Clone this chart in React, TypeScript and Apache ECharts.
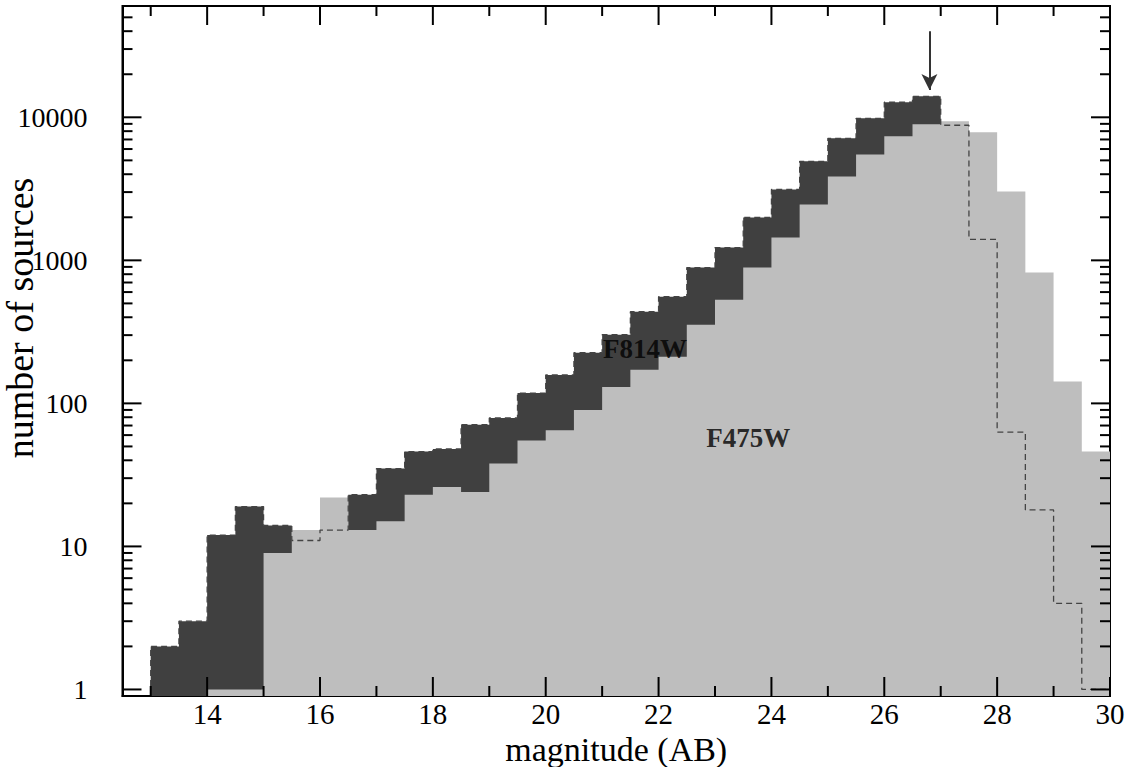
import React, { useEffect, useRef } from "react";
import * as echarts from "echarts";

// ---- data ----
const binStarts = [
  13.0, 13.5, 14.0, 14.5, 15.0, 15.5, 16.0, 16.5, 17.0, 17.5, 18.0, 18.5,
  19.0, 19.5, 20.0, 20.5, 21.0, 21.5, 22.0, 22.5, 23.0, 23.5, 24.0, 24.5,
  25.0, 25.5, 26.0, 26.5, 27.0, 27.5, 28.0, 28.5, 29.0, 29.5,
];
const BIN_WIDTH = 0.5;
const f814w = [
  2, 3, 12, 19, 14, 11, 13, 23, 35, 46, 48, 71,
  79, 118, 158, 226, 302, 437, 557, 890, 1228, 1995, 3133, 4920,
  7130, 9840, 12740, 14020, 8800, 1400, 63, 18, 4, 1,
];
const f475w = [
  0, 0, 1, 1, 9, 13, 22, 13, 15, 23, 26, 24,
  38, 55, 65, 90, 130, 172, 212, 355, 531, 890, 1445, 2457,
  3862, 5505, 7360, 8930, 9380, 7850, 3030, 821, 142, 46,
];
const xMajorTicks = [14, 16, 18, 20, 22, 24, 26, 28, 30];
const xMinorTicks = [13, 15, 17, 19, 21, 23, 25, 27, 29];
const yMajorTicks = [1, 10, 100, 1000, 10000];
const yMinorTicks = [
  2, 3, 4, 5, 6, 7, 8, 9,
  20, 30, 40, 50, 60, 70, 80, 90,
  200, 300, 400, 500, 600, 700, 800, 900,
  2000, 3000, 4000, 5000, 6000, 7000, 8000, 9000,
  20000, 30000, 40000, 50000,
];
const X_MIN = 12.5;
const X_MAX = 30;
const Y_MIN = 0.9;
const Y_MAX = 60000;
const arrowX = 26.8;
const arrowFrom = 40000;
const arrowTo = 15500;
const labelPoints = [
  [21.76, 241, "F814W"],
  [23.59, 57, "F475W"],
];

const FONT = "'Liberation Serif', 'Times New Roman', serif";
const DARK = "#404040";
const LIGHT = "#bebebe";

function stepOutline(starts: number[], vals: number[]) {
  const pts: number[][] = [];
  let first = true;
  let lastEnd = 0;
  for (let i = 0; i < starts.length; i++) {
    const v = vals[i];
    if (!(v > 0)) continue;
    const x0 = starts[i];
    const x1 = starts[i] + BIN_WIDTH;
    if (first) {
      pts.push([x0, Y_MIN]);
      first = false;
    }
    pts.push([x0, v]);
    pts.push([x1, v]);
    lastEnd = x1;
  }
  pts.push([lastEnd, Y_MIN]);
  return pts;
}

export default function App() {
  const ref = useRef<HTMLDivElement>(null);

  useEffect(() => {
    if (!ref.current) return;
    const chart = echarts.init(ref.current, null, { renderer: "svg" });

    const isPow10 = (v: number) => {
      const l = Math.log10(v);
      return Math.abs(l - Math.round(l)) < 1e-9;
    };

    const option: any = {
      animation: false,
      backgroundColor: "#ffffff",
      grid: {
        left: 122.5,
        right: 18,
        top: 6,
        bottom: 71,
        show: true,
        borderColor: "#000",
        borderWidth: 2,
        containLabel: false,
        outerBoundsMode: "none",
      },
      xAxis: {
        type: "value",
        min: X_MIN,
        max: X_MAX,
        interval: 0.5,
        axisLine: { show: true, lineStyle: { color: "#000", width: 2 } },
        axisTick: { show: false },
        splitLine: { show: false },
        axisLabel: {
          color: "#000",
          fontFamily: FONT,
          fontSize: 29,
          margin: 3,
          formatter: (v: number) =>
            Math.abs(v - Math.round(v)) < 1e-9 && Math.round(v) % 2 === 0
              ? String(Math.round(v))
              : "",
        },
        name: "magnitude (AB)",
        nameLocation: "middle",
        nameGap: 36,
        nameMoveOverlap: false,
        nameTextStyle: { color: "#000", fontFamily: FONT, fontSize: 34 },
      },
      yAxis: {
        type: "log",
        logBase: 10,
        min: Y_MIN,
        max: Y_MAX,
        axisLine: { show: true, lineStyle: { color: "#000", width: 2 } },
        axisTick: { show: false },
        splitLine: { show: false },
        axisLabel: {
          color: "#000",
          fontFamily: FONT,
          fontSize: 28,
          margin: 35,
          showMinLabel: false,
          showMaxLabel: false,
          formatter: (v: number) => (isPow10(v) ? String(Math.round(v)) : ""),
        },
        name: "number of sources",
        nameLocation: "middle",
        nameGap: 84,
        nameMoveOverlap: false,
        nameTextStyle: {
          color: "#000",
          fontFamily: FONT,
          fontSize: 38,
          padding: [0, 0, 0, 66],
        },
      },
      series: [
        {
          name: "F814W fill",
          type: "line",
          data: stepOutline(binStarts, f814w),
          showSymbol: false,
          silent: true,
          lineStyle: { width: 0, color: DARK },
          areaStyle: { color: DARK, opacity: 1, origin: "start" },
          z: 1,
        },
        {
          name: "F475W fill",
          type: "line",
          data: stepOutline(binStarts, f475w),
          showSymbol: false,
          silent: true,
          lineStyle: { width: 0, color: LIGHT },
          areaStyle: { color: LIGHT, opacity: 1, origin: "start" },
          z: 2,
        },
        {
          name: "F814W outline",
          type: "line",
          data: stepOutline(binStarts, f814w),
          showSymbol: false,
          silent: true,
          lineStyle: { width: 1.3, color: "#444", type: [6, 4] },
          z: 3,
          markLine: {
            silent: true,
            symbol: ["none", "arrow"],
            symbolSize: [12, 16],
            label: { show: false },
            lineStyle: { color: "#333", width: 2, type: "solid" },
            data: [
              [
                { coord: [arrowX, arrowFrom] },
                { coord: [arrowX, arrowTo] },
              ],
            ],
          },
        },
        {
          name: "labels",
          type: "scatter",
          data: labelPoints,
          symbolSize: 0,
          silent: true,
          z: 5,
          label: {
            show: true,
            position: "inside",
            formatter: (p: any) => p.value[2],
            color: "#000",
            fontFamily: FONT,
            fontWeight: "bold",
            fontSize: 27,
          },
        },
        {
          name: "ticks",
          type: "custom",
          silent: true,
          clip: false,
          z: 10,
          data: [[20, 100]],
          renderItem: (params: any, api: any) => {
            const cs = params.coordSys;
            const left = cs.x;
            const top = cs.y;
            const right = cs.x + cs.width;
            const bottom = cs.y + cs.height;
            const MAJ = 19;
            const MIN = 10;
            const children: any[] = [];
            const seg = (x1: number, y1: number, x2: number, y2: number) =>
              children.push({
                type: "line",
                shape: { x1, y1, x2, y2 },
                style: { stroke: "#000", lineWidth: 2 },
              });
            xMajorTicks.forEach((v) => {
              const x = api.coord([v, 1])[0];
              seg(x, bottom, x, bottom - MAJ);
              seg(x, top, x, top + MAJ);
            });
            xMinorTicks.forEach((v) => {
              const x = api.coord([v, 1])[0];
              seg(x, bottom, x, bottom - MIN);
              seg(x, top, x, top + MIN);
            });
            yMajorTicks.forEach((v) => {
              const y = api.coord([20, v])[1];
              seg(left, y, left + MAJ, y);
              seg(right, y, right - MAJ, y);
            });
            yMinorTicks.forEach((v) => {
              const y = api.coord([20, v])[1];
              seg(left, y, left + MIN, y);
              seg(right, y, right - MIN, y);
            });
            return { type: "group", children };
          },
        },
      ],
    };

    chart.setOption(option);
    return () => chart.dispose();
  }, []);

  return (
    <div
      ref={ref}
      style={{
        position: "fixed",
        left: 0,
        top: 0,
        width: 1128,
        height: 767,
        background: "#fff",
      }}
    />
  );
}
